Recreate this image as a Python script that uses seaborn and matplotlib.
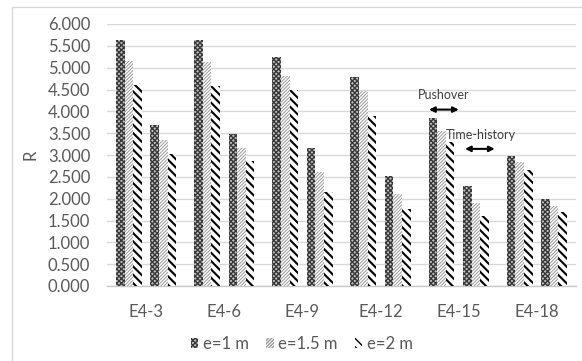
import numpy as np
import pandas as pd
import matplotlib
matplotlib.use("Agg")
import matplotlib.pyplot as plt
import matplotlib.colors as mcolors
from matplotlib.patches import Patch, Rectangle
import seaborn as sns

# ---- data -------------------------------------------------------------
categories = ["E4-3", "E4-6", "E4-9", "E4-12", "E4-15", "E4-18"]
ecc_labels = ["e=1 m", "e=1.5 m", "e=2 m"]

pushover_e1 = [5.64, 5.63, 5.25, 4.78, 3.84, 2.98]
pushover_e15 = [5.16, 5.12, 4.82, 4.46, 3.56, 2.85]
pushover_e2 = [4.61, 4.59, 4.48, 3.90, 3.29, 2.66]

timehistory_e1 = [3.68, 3.48, 3.15, 2.53, 2.28, 2.00]
timehistory_e15 = [3.35, 3.15, 2.60, 2.10, 1.91, 1.84]
timehistory_e2 = [3.03, 2.87, 2.16, 1.77, 1.61, 1.69]

methods = ["Pushover", "Time-history"]
yticks = np.arange(0, 6.01, 0.5)

# ---- long-form table ----------------------------------------------------
series = {
    ("Pushover", "e=1 m"): pushover_e1,
    ("Pushover", "e=1.5 m"): pushover_e15,
    ("Pushover", "e=2 m"): pushover_e2,
    ("Time-history", "e=1 m"): timehistory_e1,
    ("Time-history", "e=1.5 m"): timehistory_e15,
    ("Time-history", "e=2 m"): timehistory_e2,
}
rows = []
for (method, ecc), vals in series.items():
    for cat, v in zip(categories, vals):
        rows.append({"model": cat, "series": f"{method} {ecc}", "e": ecc, "R": v})
df = pd.DataFrame(rows)

# an empty slot separates the pushover and time-history clusters
spacer = " "
hue_order = [f"Pushover {e}" for e in ecc_labels] + [spacer] + \
            [f"Time-history {e}" for e in ecc_labels]

# fill styles per eccentricity: (face, hatch, hatch colour, hatch width)
styles = {
    "e=1 m": ("#c4c4c4", "xxxxxxx", "#383838", 1.0),
    "e=1.5 m": ("#ffffff", "//////////", "#9a9a9a", 0.7),
    "e=2 m": ("#ffffff", "\\\\\\\\", "#000000", 1.5),
}
key_colors = ["#010101", "#020202", "#030303", "#040404",
              "#050505", "#060606", "#070707"]
palette = dict(zip(hue_order, key_colors))
color_to_ecc = {}
for lvl, c in palette.items():
    if lvl != spacer:
        color_to_ecc[mcolors.to_hex(c)] = lvl.split(" ", 1)[1]

# ---- figure -------------------------------------------------------------
sns.set_theme(style="white")
plt.rcParams["font.family"] = ["Lato", "DejaVu Sans"]

W, H = 582, 361
fig = plt.figure(figsize=(W / 100, H / 100), dpi=100)
ax = fig.add_axes([107 / W, 1 - 286 / H, (576 - 107) / W, (286 - 24) / H])

sns.barplot(data=df, x="model", y="R", hue="series", hue_order=hue_order,
            order=categories, palette=palette, width=0.77, gap=0,
            errorbar=None, legend=False, ax=ax, zorder=3)


def style_patch(p, ecc):
    face, hatch, hcol, hlw = styles[ecc]
    p.set_facecolor(face)
    p.set_hatch(hatch)
    p.set_edgecolor(hcol)
    p.set_linewidth(0)
    if hasattr(p, "set_hatch_linewidth"):
        p.set_hatch_linewidth(hlw)


for p in ax.patches:
    key = mcolors.to_hex(p.get_facecolor())
    if key in color_to_ecc:
        style_patch(p, color_to_ecc[key])

# axes styling
ax.set_ylim(0, 6)
ax.set_xlim(-0.5, len(categories) - 0.5)
ax.set_yticks(yticks)
ax.set_yticklabels([f"{v:.3f}" for v in yticks])
ax.yaxis.grid(True, color="#d9d9d9", linewidth=1.0, zorder=0)
ax.set_axisbelow(True)
for s in ["top", "right", "left"]:
    ax.spines[s].set_visible(False)
ax.spines["bottom"].set_color("#c8c8c8")
ax.spines["bottom"].set_linewidth(1.0)
ax.tick_params(axis="y", length=0, pad=12, labelsize=12, labelcolor="#595959")
ax.tick_params(axis="x", length=0, pad=13, labelsize=12, labelcolor="#595959")
ax.set_xlabel("")
ax.set_ylabel("R", fontsize=12, color="#595959")
ax.yaxis.set_label_coords(-(107 - 38) / (576 - 107), 0.5)

# method annotations
ax.text(3.81, 4.38, "Pushover", ha="center", va="center", fontsize=9,
        color="#404040")
ax.annotate("", xy=(3.62, 4.04), xytext=(4.0, 4.04),
            arrowprops=dict(arrowstyle="<|-|>", color="black", lw=1.5,
                            mutation_scale=8, shrinkA=0, shrinkB=0))
ax.text(4.28, 3.46, "Time-history", ha="center", va="center", fontsize=9,
        color="#404040")
ax.annotate("", xy=(4.08, 3.14), xytext=(4.46, 3.14),
            arrowprops=dict(arrowstyle="<|-|>", color="black", lw=1.5,
                            mutation_scale=8, shrinkA=0, shrinkB=0))

# legend
handles = []
for ecc in ecc_labels:
    face, hatch, hcol, hlw = styles[ecc]
    h = Patch(facecolor=face, hatch=hatch, edgecolor=hcol, linewidth=0,
              label=ecc)
    if hasattr(h, "set_hatch_linewidth"):
        h.set_hatch_linewidth(hlw)
    handles.append(h)
fig.legend(handles=handles, loc="center", bbox_to_anchor=(302 / W, 1 - 344 / H),
           ncol=3, frameon=False, fontsize=12, labelcolor="#595959",
           handlelength=0.45, handleheight=0.5, handletextpad=0.3,
           columnspacing=1.0)

# chart-area frame
fig.patches.append(Rectangle((12 / W, -0.2), 1.2, 1.2 - 7 / H,
                             transform=fig.transFigure, fill=False,
                             edgecolor="#d9d9d9", linewidth=1.0))

fig.savefig("out.png", dpi=100)
